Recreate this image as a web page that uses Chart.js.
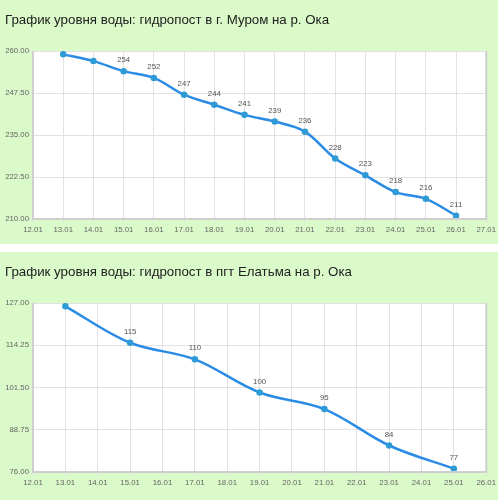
<!DOCTYPE html>
<html>
<head>
<meta charset="utf-8">
<script src="https://cdn.jsdelivr.net/npm/chart.js@4"></script>
<style>
  body { margin: 0; background: #fff; font-family: "Liberation Sans", Arial, sans-serif; }
  .panel { position: absolute; left: 0; width: 498px; background: #dafac9; }
  .title { position: absolute; left: 5px; top: 12px; font-size: 13.3px; line-height: 15px; color: #222; white-space: nowrap; }
  .box { position: absolute; left: 0; top: 0; right: 0; bottom: 0; }
</style>
</head>
<body>
<div class="panel" style="top:0;height:244px">
  <div class="box"><canvas id="chart1"></canvas></div>
  <div class="title">График уровня воды: гидропост в г. Муром на р. Ока</div>
</div>
<div class="panel" style="top:252px;height:248px">
  <div class="box"><canvas id="chart2"></canvas></div>
  <div class="title">График уровня воды: гидропост в пгт Елатьма на р. Ока</div>
</div>
<script>
// Муром
const days1 = [13, 14, 15, 16, 17, 18, 19, 20, 21, 22, 23, 24, 25, 26];
const level1 = [259, 257, 254, 252, 247, 244, 241, 239, 236, 228, 223, 218, 216, 211];
const pointText1 = ["", "", "254", "252", "247", "244", "241", "239", "236", "228", "223", "218", "216", "211"];
const xTicks1 = ["12.01", "13.01", "14.01", "15.01", "16.01", "17.01", "18.01", "19.01",
  "20.01", "21.01", "22.01", "23.01", "24.01", "25.01", "26.01", "27.01"];
const yTicks1 = [210, 222.5, 235, 247.5, 260];

// Елатьма
const days2 = [13, 15, 17, 19, 21, 23, 25];
const level2 = [126, 115, 110, 100, 95, 84, 77];
const pointText2 = ["", "115", "110", "100", "95", "84", "77"];
const xTicks2 = ["12.01", "13.01", "14.01", "15.01", "16.01", "17.01", "18.01", "19.01",
  "20.01", "21.01", "22.01", "23.01", "24.01", "25.01", "26.01"];
const yTicks2 = [76, 88.75, 101.5, 114.25, 127];

const tickFont = { family: "'Liberation Sans', Arial, sans-serif", size: 7.8 };

// white plot area + grey frame
const plotFrame = {
  id: 'plotFrame',
  beforeDraw(chart) {
    const { ctx, chartArea: a } = chart;
    ctx.save();
    ctx.fillStyle = '#fff';
    ctx.fillRect(a.left, a.top, a.right - a.left, a.bottom - a.top);
    ctx.restore();
  },
  afterDatasetsDraw(chart) {
    const { ctx, chartArea: a } = chart;
    ctx.save();
    ctx.strokeStyle = '#cfcfcf';
    ctx.lineWidth = 2;
    ctx.beginPath();
    ctx.moveTo(a.left, a.top);
    ctx.lineTo(a.left, a.bottom);
    ctx.lineTo(a.right, a.bottom);
    ctx.lineTo(a.right, a.top);
    ctx.stroke();
    ctx.restore();
  }
};

// value labels above points
const pointLabels = {
  id: 'pointLabels',
  afterDatasetsDraw(chart) {
    const { ctx } = chart;
    const texts = chart.options.plugins.pointLabels.texts;
    const meta = chart.getDatasetMeta(0);
    ctx.save();
    ctx.font = '7.8px "Liberation Sans", Arial, sans-serif';
    ctx.fillStyle = '#555';
    ctx.textAlign = 'center';
    ctx.textBaseline = 'middle';
    meta.data.forEach((pt, i) => {
      if (texts[i]) ctx.fillText(texts[i], pt.x, pt.y - 11);
    });
    ctx.restore();
  }
};

function makeChart(id, days, levels, texts, xTicks, yTicks, xHeight) {
  const firstDay = parseInt(xTicks[0], 10);
  new Chart(document.getElementById(id), {
    type: 'line',
    data: {
      datasets: [{
        data: days.map((d, i) => ({ x: d, y: levels[i] })),
        borderColor: '#2b8ce6',
        borderWidth: 2.5,
        tension: 0.35,
        pointRadius: 2,
        pointBackgroundColor: '#2f9bd6',
        pointBorderColor: '#2f9bd6',
        fill: false
      }]
    },
    options: {
      responsive: true,
      maintainAspectRatio: false,
      animation: false,
      layout: { padding: { top: 51, right: 11, left: 0, bottom: 0 } },
      plugins: {
        legend: { display: false },
        tooltip: { enabled: false },
        pointLabels: { texts: texts }
      },
      scales: {
        x: {
          type: 'linear',
          min: firstDay,
          max: firstDay + xTicks.length - 1,
          afterBuildTicks: (s) => { s.ticks = xTicks.map((_, i) => ({ value: firstDay + i })); },
          afterFit: (s) => { s.height = xHeight; },
          ticks: {
            autoSkip: false, maxRotation: 0, padding: 2,
            color: '#666', font: tickFont,
            callback: (v) => xTicks[v - firstDay]
          },
          grid: { color: '#e2e2e2', tickLength: 4 },
          border: { display: false }
        },
        y: {
          min: yTicks[0],
          max: yTicks[yTicks.length - 1],
          afterBuildTicks: (s) => { s.ticks = yTicks.map(v => ({ value: v })); },
          afterFit: (s) => { s.width = 33; },
          ticks: {
            padding: 0, color: '#666', font: tickFont,
            callback: (v) => Number(v).toFixed(2)
          },
          grid: { color: '#e2e2e2', tickLength: 4 },
          border: { display: false }
        }
      }
    },
    plugins: [plotFrame, pointLabels]
  });
}

makeChart('chart1', days1, level1, pointText1, xTicks1, yTicks1, 25);
makeChart('chart2', days2, level2, pointText2, xTicks2, yTicks2, 28);
</script>
</body>
</html>
